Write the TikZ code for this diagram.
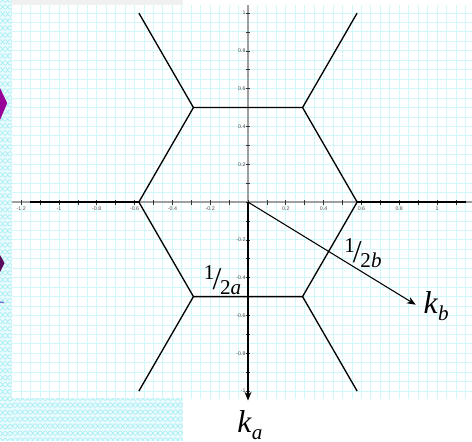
\documentclass[tikz,border=0pt]{standalone}
\usepackage{fontspec}
\setmainfont{Liberation Serif}
\setsansfont{Liberation Sans}
\usetikzlibrary{arrows.meta}
\definecolor{slidepurple}{HTML}{990099}
\definecolor{slideplum}{HTML}{5A0A5A}
\definecolor{slideblue}{HTML}{7070D0}
\definecolor{gridcyan}{HTML}{D2F7FA}
\definecolor{wavecyan}{HTML}{A8EEF6}
\newcommand{\kvec}[1]{\textit{k}\raisebox{-0.2em}{\fontsize{12}{12}\selectfont\textit{#1}}}
\newcommand{\recip}[1]{\raisebox{0.32em}{\fontsize{12}{12}\selectfont 1}\kern-0.06em/\kern-0.04em\raisebox{-0.15em}{\fontsize{12}{12}\selectfont 2\textit{#1}}}

\begin{document}
\begin{tikzpicture}[x=3.78cm, y=3.78cm,
    gridline/.style={gridcyan, line width=0.5pt},
    waveline/.style={wavecyan, line width=0.4pt},
    axisline/.style={gray!75, line width=0.9pt},
    tickmark/.style={black!80, line width=0.4pt},
    ticklabel/.style={font=\sffamily\fontsize{3}{3}\selectfont, text=black!70, inner sep=0.4pt},
    hexline/.style={black, line width=0.75pt},
    arrow/.style={-{Stealth[length=5pt, width=4pt]}, line width=0.6pt},
    bzlabel/.style={font=\fontsize{18}{20}\selectfont, inner sep=0pt},
]
\useasboundingbox (-1.312,-1.265) rectangle (1.185,1.069);

% slide background bits
\fill[gray!12] (-1.249,1.042) rectangle (-0.344,1.069);
\begin{scope}
  \clip (-1.312,-1.265) rectangle (-1.249,1.069) (-1.312,-1.265) rectangle (-0.344,-1.037);
  \fill[wavecyan!25] (-1.312,-1.265) rectangle (-0.344,1.069);
  \foreach \r in {0,...,63}
    \draw[waveline] plot[domain=-1.312:-1.249, samples=12] (\x, {1.069-\r*0.037+0.012*sin(360*\x/0.053)})
                    plot[domain=-1.312:-1.249, samples=12] (\x, {1.069-\r*0.037-0.012*sin(360*\x/0.053)});
  \foreach \r in {0,...,6}
    \draw[waveline] plot[domain=-1.249:-0.344, samples=140] (\x, {-1.037-\r*0.037+0.012*sin(360*\x/0.053)})
                    plot[domain=-1.249:-0.344, samples=140] (\x, {-1.037-\r*0.037-0.012*sin(360*\x/0.053)});
\end{scope}
\fill[slidepurple] (-1.312,0.603) -- (-1.274,0.524) -- (-1.312,0.434) -- cycle;
\fill[slideplum] (-1.312,-0.280) -- (-1.288,-0.323) -- (-1.312,-0.370) -- cycle;
\draw[slideblue, line width=0.8pt] (-1.312,-0.529) -- (-1.291,-0.532);

% grid paper
\begin{scope}
  \clip (-1.249,-1.037) rectangle (1.185,1.042);
  \draw[gridline] (-1.3,-1.1) grid[step=0.05] (1.2,1.1);
\end{scope}

% axes with ticks
\draw[axisline] (-1.249,0) -- (1.185,0);
\draw[axisline] (0,-1.037) -- (0,1.042);
\foreach \i in {-12,...,11}
  \draw[tickmark] (\i/10,-0.013) -- (\i/10,0.013);
\foreach \i in {-10,...,10}
  \draw[tickmark] (-0.013,\i/10) -- (0.013,\i/10);
\foreach \x [count=\n] in {-1.2,-1,-0.8,-0.6,-0.4,-0.2,0.2,0.4,0.6,0.8,1}
  \node[ticklabel] (xt\n) at (\x,-0.033) {\x};
\foreach \y [count=\n] in {-1,-0.8,-0.6,-0.4,-0.2,0.2,0.4,0.6,0.8,1}
  \node[ticklabel, anchor=east] (yt\n) at (-0.008,\y) {\y};

% zone boundary
\draw[hexline] (0:0.5774) \foreach \a in {60,120,...,300} { -- (\a:0.5774) } -- cycle;
\foreach \a in {0,60,...,300}
  \draw[hexline] (\a:0.5774) -- (\a:1.1547);

% reciprocal vectors
\coordinate (O) at (0,0);
\coordinate (ka) at (0,-1.05);
\coordinate (kb) at (0.887,-0.543);
\draw[arrow] (O) -- (ka);
\draw[arrow] (O) -- (kb);

\node[bzlabel] (kalab) at (0.01,-1.18) {\kvec{a}};
\node[bzlabel] (kblab) at (0.995,-0.55) {\kvec{b}};
\node[bzlabel] (halfa) at (-0.135,-0.413) {\recip{a}};
\node[bzlabel] (halfb) at (0.608,-0.27) {\recip{b}};

\end{tikzpicture}
\end{document}
